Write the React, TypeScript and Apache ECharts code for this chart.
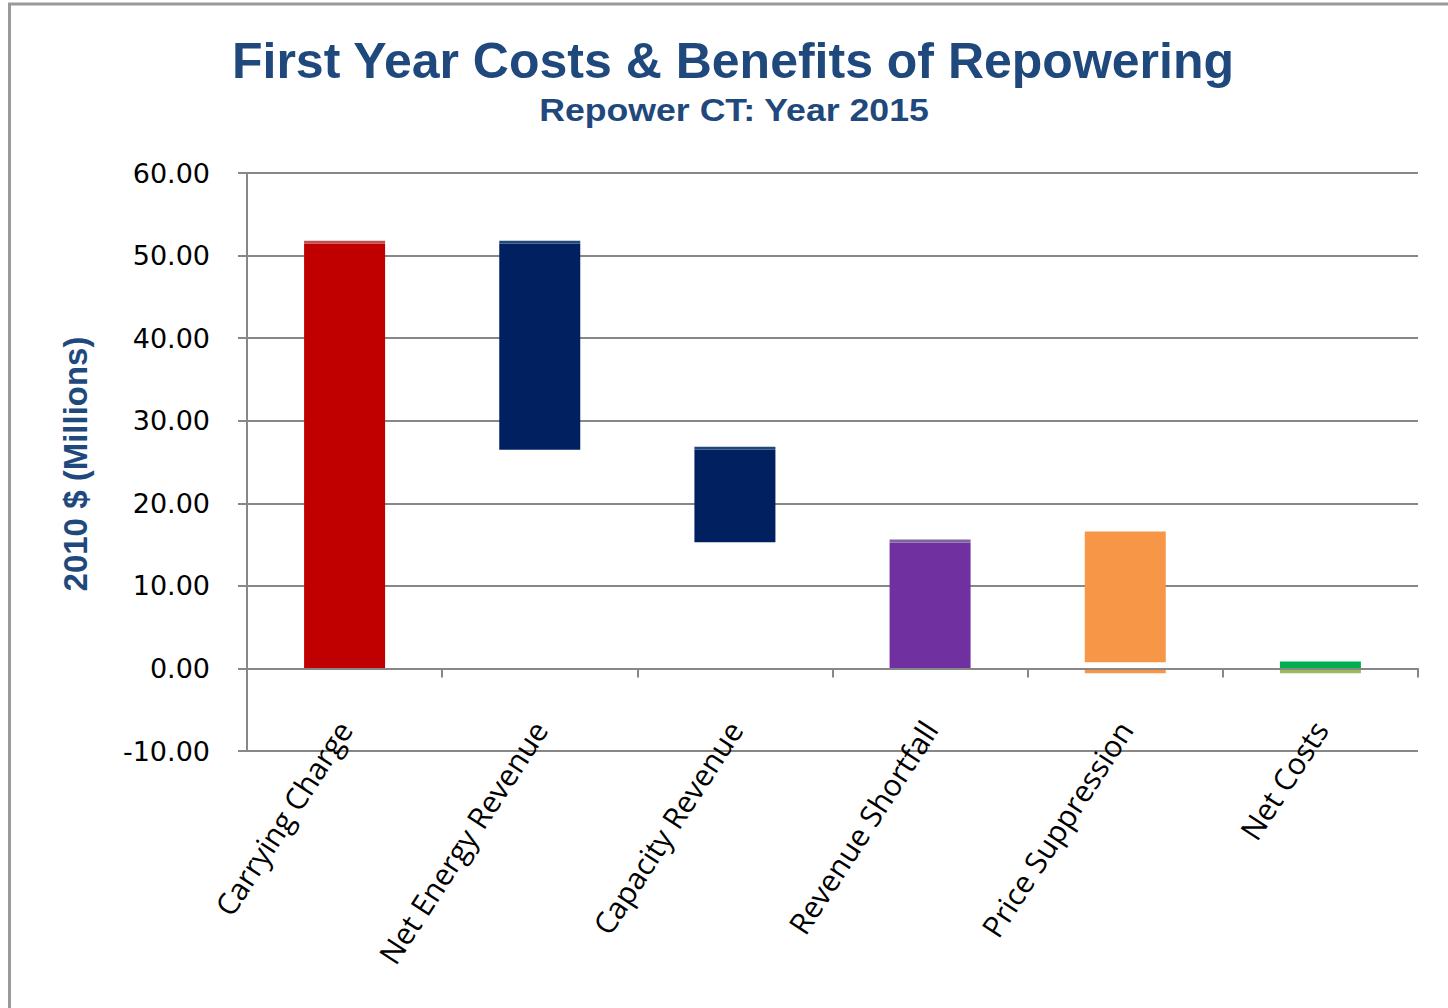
import React, { useEffect, useRef } from "react";
import * as echarts from "echarts";

const categories = [
  "Carrying Charge",
  "Net Energy Revenue",
  "Capacity Revenue",
  "Revenue Shortfall",
  "Price Suppression",
  "Net Costs",
];
// invisible waterfall base
const baseValues = [0, 26.49, 15.28, 0, 0.76, 0];
// main visible segment
const mainValues = [51.45, 24.96, 11.21, 15.24, 15.81, 0.85];
// thin top cap segment
const capValues = [0.33, 0.33, 0.36, 0.36, 0, 0];
// small negative segment
const negativeValues = [0, 0, 0, 0, -0.57, -0.57];

const mainColors = ["#c00000", "#002060", "#002060", "#7030a0", "#f79646", "#00b050"];
const capColors = ["#c0504d", "#1f497d", "#1f497d", "#8064a2", "#f79646", "#00b050"];
const negColors = ["#c00000", "#002060", "#002060", "#7030a0", "#f79646", "#9bbb59"];

const yTicks = { min: -10, max: 60, interval: 10 };

const titleText = "First Year Costs & Benefits of Repowering";
const subtitleText = "Repower CT: Year 2015";
const yAxisTitle = "2010 $ (Millions)";

export default function App() {
  const ref = useRef<HTMLDivElement>(null);
  useEffect(() => {
    if (!ref.current) return;
    const chart = echarts.init(ref.current, null, { renderer: "svg" });
    const gray = "#878787";
    const barWidth = 81;
    const colored = (vals: number[], cols: string[]) =>
      vals.map((v, i) => ({ value: v, itemStyle: { color: cols[i] } }));
    chart.setOption({
      animation: false,
      backgroundColor: "#ffffff",
      grid: {
        left: 247,
        right: 30,
        top: 173,
        bottom: 257,
        containLabel: false,
        outerBoundsMode: "none",
      },
      graphic: [
        {
          type: "rect",
          shape: { x: 9.5, y: 4, width: 2000, height: 2000 },
          style: { fill: "none", stroke: "#9a9a9a", lineWidth: 3 },
          silent: true,
        },
        {
          type: "text",
          x: 733,
          y: 61,
          style: {
            text: titleText,
            fill: "#1f497d",
            font: "bold 50px 'Liberation Sans', Arial, sans-serif",
            align: "center",
            verticalAlign: "middle",
          },
        },
        {
          type: "text",
          x: 734,
          y: 110,
          scaleX: 1.15,
          originX: 0,
          originY: 0,
          style: {
            text: subtitleText,
            fill: "#1f497d",
            font: "bold 31px 'Liberation Sans', Arial, sans-serif",
            align: "center",
            verticalAlign: "middle",
          },
        },
        {
          type: "text",
          x: 75,
          y: 464,
          rotation: Math.PI / 2,
          style: {
            text: yAxisTitle,
            fill: "#1f497d",
            font: "bold 33px 'Liberation Sans', Arial, sans-serif",
            align: "center",
            verticalAlign: "middle",
          },
        },
      ],
      xAxis: {
        type: "category",
        data: categories,
        z: 5,
        axisLine: { onZero: true, lineStyle: { color: gray, width: 2 } },
        axisTick: { show: true, interval: 0, length: 9, lineStyle: { color: gray, width: 2 } },
        axisLabel: {
          interval: 0,
          rotate: 57,
          margin: -27,
          color: "#000000",
          fontSize: 30,
          fontFamily: "'Open Sans', sans-serif",
        },
        splitLine: { show: false },
      },
      yAxis: {
        type: "value",
        min: yTicks.min,
        max: yTicks.max,
        interval: yTicks.interval,
        axisLine: { show: true, lineStyle: { color: gray, width: 2 } },
        axisTick: { show: true, length: 9, lineStyle: { color: gray, width: 2 } },
        axisLabel: {
          margin: 37,
          color: "#000000",
          fontSize: 27,
          fontFamily: "'DejaVu Sans', sans-serif",
          formatter: (v: number) => v.toFixed(2),
        },
        splitLine: { show: true, lineStyle: { color: gray, width: 2 } },
      },
      series: [
        {
          name: "base",
          type: "bar",
          stack: "w",
          barWidth,
          silent: true,
          itemStyle: { color: "rgba(0,0,0,0)" },
          data: baseValues,
        },
        {
          name: "main",
          type: "bar",
          stack: "w",
          barWidth,
          data: colored(mainValues, mainColors),
        },
        {
          name: "cap",
          type: "bar",
          stack: "w",
          barWidth,
          data: colored(capValues, capColors),
        },
        {
          name: "negative",
          type: "bar",
          stack: "w",
          barWidth,
          data: colored(negativeValues, negColors),
        },
      ],
    });
    return () => chart.dispose();
  }, []);
  return (
    <div
      ref={ref}
      style={{ position: "fixed", left: 0, top: 0, width: 1448, height: 1008, background: "#fff" }}
    />
  );
}
